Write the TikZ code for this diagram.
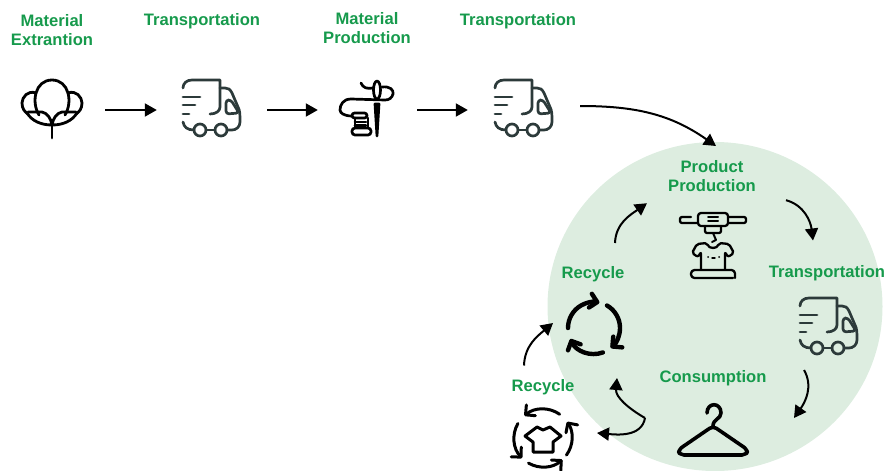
\documentclass[tikz,border=0pt]{standalone}
\usepackage{fontspec}
\setmainfont{Liberation Sans}
\usetikzlibrary{arrows.meta}

\definecolor{labelgreen}{HTML}{169A4C}
\definecolor{circlegreen}{HTML}{DDEDE0}
\definecolor{truckdark}{HTML}{2C3A3A}

\tikzset{
    steplabel/.style={align=center, anchor=center, inner sep=0pt, text=labelgreen, font=\fontsize{16.6}{19}\selectfont\bfseries},
    iconbox/.style={minimum width=60pt, minimum height=60pt, inner sep=0pt},
    flowarrow/.style={-{Triangle[length=12pt, width=13pt]}, line width=2pt, black},
    iconline/.style={line width=2.7pt, line cap=round, line join=round},
    cycleline/.style={line cap=round, line join=round, -{Straight Barb[length=7pt, width=14pt, round]}},
    pics/truck/.style={code={
        \draw[iconline, truckdark] (-27,-22) .. controls (-27,-27) and (-23,-30) .. (-18,-30) -- (10,-30) -- (10,-3) .. controls (10,1) and (6,4) .. (0,4);
        \draw[iconline, truckdark] (10,-22) -- (15,-22) .. controls (18,-22) and (20,-21) .. (22,-17) -- (28,-3) .. controls (30,1) and (30,4) .. (30,12) .. controls (30,17) and (26,20) .. (22,20) -- (17,20);
        \draw[iconline, truckdark, rounded corners=3pt] (16,-10) -- (21,-10) -- (29,3) -- (16,4) -- cycle;
        \draw[iconline, truckdark] (-10,20) circle (6);
        \draw[iconline, truckdark] (11,20) circle (6);
        \draw[iconline, truckdark] (-27,12) .. controls (-26,17) and (-23,20) .. (-16,20);
        \draw[iconline, truckdark] (-4,20) -- (5,20);
        \draw[iconline, truckdark] (-27,-13) -- (-10,-13);
        \draw[iconline, truckdark] (-27,-5) -- (-15,-5);
        \draw[iconline, truckdark] (-27,4) -- (-21,4);
    }},
    pics/cotton/.style={code={
        \draw[iconline, line width=2.8pt] (-13,5) .. controls (-21,-8) and (-17,-30) .. (0,-30) .. controls (17,-30) and (21,-8) .. (13,5);
        \foreach \s in {-1,1} {
            \draw[iconline, line width=2.8pt] ({\s*16},-17) .. controls ({\s*24},-20) and ({\s*30},-13) .. ({\s*30},-7) .. controls ({\s*30},-1) and ({\s*27},2) .. ({\s*24},4);
            \draw[iconline, line width=2.8pt] ({\s*24},2) -- ({\s*10},2) .. controls ({\s*5},3) and ({\s*1},8) .. (0,15);
            \draw[iconline, line width=2.8pt] ({\s*25},3) .. controls ({\s*20},11) and ({\s*11},15) .. (0,15);
        }
        \draw[iconline, line width=2.8pt] (0,15) -- (0,28);
    }},
    pics/needle/.style={code={
        \draw[iconline] (12,-20) ellipse (3.5 and 9);
        \draw[iconline, fill=black] (10,-6) -- (14,-6) -- (12,26) -- cycle;
        \draw[iconline] (-4,-27) .. controls (-2,-22) and (2,-21) .. (8,-22);
        \draw[iconline] (17,-23) .. controls (25,-24) and (29,-20) .. (28,-16) .. controls (27,-12) and (24,-10) .. (20,-10) -- (-14,-11) .. controls (-22,-11) and (-25,-5) .. (-25,0) .. controls (-25,3) and (-21,6) .. (-13,6);
        \draw[iconline, rounded corners=2.5pt] (-13,3) rectangle (2,8);
        \draw[iconline] (-10,12) -- (1,12);
        \draw[iconline] (-10,15.5) -- (1,15.5);
        \draw[iconline] (-10,8) -- (-10,18);
        \draw[iconline] (3,8) -- (3,18);
        \draw[iconline, rounded corners=3pt] (-13,18) rectangle (6,25);
    }},
    pics/tshirtmachine/.style={code={
        \draw[iconline, line width=2.3pt, rounded corners=3pt] (-15,-32) rectangle (15,-19);
        \draw[iconline, line width=2.3pt, rounded corners=2pt] (-15,-22) -- (-33,-22) -- (-33,-28) -- (-22,-28);
        \draw[iconline, line width=2.3pt, rounded corners=2pt] (15,-28) -- (33,-28) -- (33,-22) -- (15,-22);
        \draw[iconline, line width=2pt] (-5,-28) -- (5,-28);
        \draw[iconline, line width=2pt] (-5,-24) -- (5,-24);
        \draw[iconline, line width=2.3pt, rounded corners=2pt] (-8,-19) -- (-8,-12) -- (8,-12) -- (8,-19);
        \draw[iconline, line width=2pt] (0,-12) -- (3,-5) -- (-1,-3);
        \draw[iconline, line width=2.3pt, rounded corners=2pt] (-12,24) -- (-12,7) -- (-15,12) -- (-21,8) -- (-16,-1) -- (-6,-2) .. controls (-4,4) and (4,4) .. (6,-2) -- (16,-1) -- (21,8) -- (15,12) -- (12,7) -- (12,24);
        \fill (-5,12) circle (1);
        \draw[iconline, line width=1.4pt] (-1,13) -- (2,13);
        \fill (6,12) circle (1);
        \draw[iconline, line width=2.3pt, rounded corners=3.5pt] (20,33) -- (-22,33) -- (-22,25) -- (22,25) -- (22,33);
    }},
    pics/hanger/.style={code={
        \draw[iconline, line width=3.6pt] (-6,-17) .. controls (-6,-28) and (8,-28) .. (8,-17) .. controls (8,-11) and (0,-11) .. (0,-4);
        \draw[iconline, line width=3.6pt, rounded corners=4pt] (0,-4) -- (-35,20) -- (-33,25) -- (33,25) -- (35,20) -- cycle;
    }},
    pics/recyclearrows/.style={code={
        \foreach \angA/\angB in {180/78, 60/-50, -70/-155} {
            \draw[cycleline, line width=4.4pt] (\angA:26pt) arc[start angle=\angA, end angle=\angB, radius=26pt];
        }
    }},
    pics/shirtcycle/.style={code={
        \foreach \angA/\angB in {55/130, -36/34, 150/224, 240/312} {
            \draw[cycleline, line width=3pt] (\angA:29pt) arc[start angle=\angA, end angle=\angB, radius=29pt];
        }
        \draw[iconline, line width=3pt] (-6,-11) -- (0,-8) -- (7,-11) -- (18,-2) -- (10,4) -- (10,14) -- (-10,14) -- (-10,4) -- (-18,-2) -- cycle;
    }},
}

\begin{document}
\begin{tikzpicture}[x=1pt, y=-1pt]
    \useasboundingbox (0,0) rectangle (889,471);

    \fill[circlegreen] (715,306.5) ellipse (167.5 and 164.5);

    \node[steplabel] (labelExtract) at (52,30.2) {Material\\Extrantion};
    \node[steplabel] (labelTruckA) at (202,21) {Transportation};
    \node[steplabel] (labelMaterial) at (367,27.7) {Material\\Production};
    \node[steplabel] (labelTruckB) at (518,21) {Transportation};
    \node[steplabel] (labelProduct) at (712,176.2) {Product\\Production};
    \node[steplabel] (labelTruckC) at (827,273.5) {Transportation};
    \node[steplabel] (labelConsume) at (713,378) {Consumption};
    \node[steplabel] (labelRecycleA) at (593,274) {Recycle};
    \node[steplabel] (labelRecycleB) at (543,387.5) {Recycle};

    \node[iconbox] (cotton) at (52,110) {};
    \node[iconbox] (truckA) at (210,110) {};
    \node[iconbox] (needle) at (365,110) {};
    \node[iconbox] (truckB) at (522,110) {};
    \node[iconbox] (machine) at (713,245) {};
    \node[iconbox] (truckC) at (827,328) {};
    \node[iconbox] (hanger) at (713,430) {};
    \node[iconbox] (recycle) at (594,328) {};
    \node[iconbox] (shirtcycle) at (543,438) {};

    \pic at (cotton) {cotton};
    \pic at (truckA) {truck};
    \pic at (needle) {needle};
    \pic at (truckB) {truck};
    \pic at (machine) {tshirtmachine};
    \pic at (truckC) {truck};
    \pic at (hanger) {hanger};
    \pic at (recycle) {recyclearrows};
    \pic at (shirtcycle) {shirtcycle};

    \draw[flowarrow, shorten <=23pt, shorten >=23pt] (cotton) -- (truckA);
    \draw[flowarrow, shorten <=27pt, shorten >=17pt] (truckA) -- (needle);
    \draw[flowarrow, shorten <=22pt, shorten >=24pt] (needle) -- (truckB);

    \draw[flowarrow] ([xshift=28pt, yshift=4pt]truckB.east) to[out=0, in=145] ([xshift=4pt, yshift=30.2pt]labelProduct.center);
    \draw[flowarrow] ([xshift=74pt, yshift=-24pt]labelProduct.center) to[out=-15, in=97] ([xshift=-14pt, yshift=33pt]labelTruckC.center);
    \draw[flowarrow] ([xshift=-23pt, yshift=-42pt]truckC.center) to[out=-60, in=55] ([xshift=81pt, yshift=12pt]hanger.center);
    \draw[flowarrow] ([xshift=-68pt, yshift=12pt]hanger.center) to[out=150, in=-95] ([xshift=23pt, yshift=-50pt]recycle.center);
    \draw[flowarrow] ([xshift=-68pt, yshift=12pt]hanger.center) to[out=-100, in=-5] ([xshift=54pt, yshift=5pt]shirtcycle.center);
    \draw[flowarrow] ([xshift=-19pt, yshift=22pt]labelRecycleB.center) to[out=88, in=220] ([xshift=-41pt, yshift=5pt]recycle.center);
    \draw[flowarrow] ([xshift=22pt, yshift=31pt]labelRecycleA.center) to[out=88, in=215] ([xshift=-65pt, yshift=-27pt]labelProduct.center);
\end{tikzpicture}
\end{document}
